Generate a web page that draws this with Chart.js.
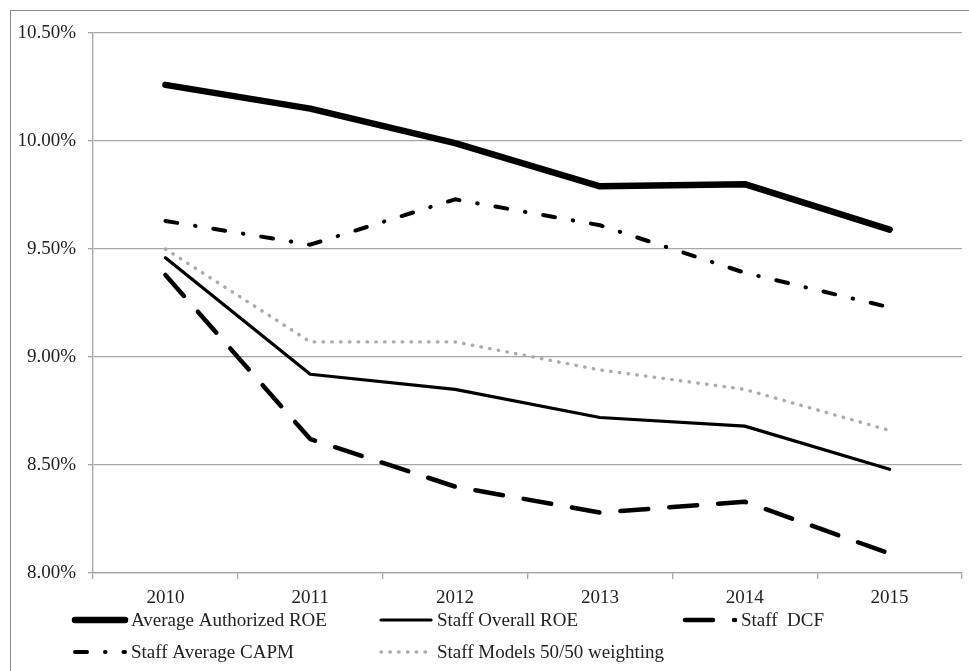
<!DOCTYPE html>
<html>
<head>
<meta charset="utf-8">
<script src="https://cdn.jsdelivr.net/npm/chart.js@4.4.0/dist/chart.umd.min.js"></script>
<style>
  html, body { margin: 0; padding: 0; background: #fff; overflow: hidden; }
  #wrap { position: relative; width: 969px; height: 671px; }
  #frame { position: absolute; left: 10px; top: 10px; width: 975px; height: 700px; border: 1px solid #8c8c8c; pointer-events: none; }
</style>
</head>
<body>
<div id="wrap">
  <canvas id="roe" width="969" height="671"></canvas>
  <div id="frame"></div>
</div>
<script>
//categories and series values
var years = ['2010', '2011', '2012', '2013', '2014', '2015'];
var avgAuthorized = [10.26, 10.15, 9.99, 9.79, 9.80, 9.59];
var staffOverall = [9.46, 8.92, 8.85, 8.72, 8.68, 8.48];
var staffDcf = [9.38, 8.62, 8.40, 8.28, 8.33, 8.09];
var staffCapm = [9.63, 9.52, 9.73, 9.61, 9.39, 9.23];
var staffModels = [9.50, 9.07, 9.07, 8.94, 8.85, 8.66];
var seriesNames = ['Average Authorized ROE', 'Staff Overall ROE', 'Staff  DCF', 'Staff Average CAPM', 'Staff Models 50/50 weighting'];

//y tick range
var yMin = 8, yMax = 10.5, yStep = 0.5;

var fontFamily = '"Liberation Serif", "DejaVu Serif", serif';
var gridGrey = '#a6a6a6';

//legend drawn in the bottom padding, excel style (fixed columns)
var excelLegend = {
  id: 'excelLegend',
  afterDraw: function(chart, args, opts) {
    var ctx = chart.ctx;
    chart.data.datasets.forEach(function(ds, i) {
      var spot = opts.spots[i];
      var x = spot[0], y = spot[1];
      ctx.save();
      ctx.strokeStyle = ds.borderColor;
      ctx.lineWidth = ds.borderWidth;
      ctx.lineCap = ds.borderCapStyle || 'butt';
      ctx.setLineDash(ds.borderDash || []);
      ctx.beginPath();
      ctx.moveTo(x + 3, y);
      ctx.lineTo(x + opts.sample - 3, y);
      ctx.stroke();
      ctx.setLineDash([]);
      ctx.fillStyle = '#222';
      ctx.font = opts.size + 'px ' + fontFamily;
      ctx.textBaseline = 'middle';
      ctx.textAlign = 'left';
      ctx.fillText(ds.label, x + opts.sample + 3, y + 1);
      ctx.restore();
    });
  }
};

var ctx = document.getElementById('roe');
var chart = new Chart(ctx, {
  type: 'line',
  data: {
    labels: years,
    datasets: [{
      label: seriesNames[0],
      data: avgAuthorized,
      borderColor: '#000',
      borderWidth: 6.5,
      borderCapStyle: 'round',
      borderJoinStyle: 'round'
    }, {
      label: seriesNames[1],
      data: staffOverall,
      borderColor: '#000',
      borderWidth: 3.2,
      borderCapStyle: 'round',
      borderJoinStyle: 'round'
    }, {
      label: seriesNames[2],
      data: staffDcf,
      borderColor: '#000',
      borderWidth: 4.5,
      borderDash: [28, 21],
      borderCapStyle: 'round',
      borderJoinStyle: 'round'
    }, {
      label: seriesNames[3],
      data: staffCapm,
      borderColor: '#000',
      borderWidth: 4,
      borderDash: [12, 18, 0.5, 18],
      borderCapStyle: 'round',
      borderJoinStyle: 'round'
    }, {
      label: seriesNames[4],
      data: staffModels,
      borderColor: '#ababab',
      borderWidth: 3.4,
      borderDash: [0.5, 8.3],
      borderCapStyle: 'round',
      borderJoinStyle: 'round'
    }]
  },
  options: {
    responsive: false,
    animation: false,
    devicePixelRatio: 1,
    layout: { padding: { top: 33, right: 7, bottom: 58, left: 0 } },
    elements: { point: { radius: 0 }, line: { tension: 0, fill: false } },
    plugins: {
      legend: { display: false },
      tooltip: { enabled: false },
      excelLegend: {
        spots: [[72, 620], [378, 620], [682, 620], [72, 652], [378, 652]],
        sample: 56,
        size: 19
      }
    },
    scales: {
      x: {
        offset: true,
        grid: { offset: true, drawOnChartArea: false, color: gridGrey, lineWidth: 1.3, tickLength: 6 },
        border: { color: gridGrey, width: 1.3 },
        ticks: { padding: 8, color: '#222', maxRotation: 0, font: { family: fontFamily, size: 19 } },
        afterFit: function(scale) { scale.height = 40; }
      },
      y: {
        min: yMin,
        max: yMax,
        grid: { color: gridGrey, lineWidth: 1.3, tickLength: 5 },
        border: { color: gridGrey, width: 1.3 },
        ticks: {
          stepSize: yStep,
          padding: 12,
          color: '#222',
          font: { family: fontFamily, size: 19 },
          callback: function(v) { return v.toFixed(2) + '%'; }
        },
        afterFit: function(scale) { scale.width = 93; }
      }
    }
  },
  plugins: [excelLegend]
});
</script>
</body>
</html>
